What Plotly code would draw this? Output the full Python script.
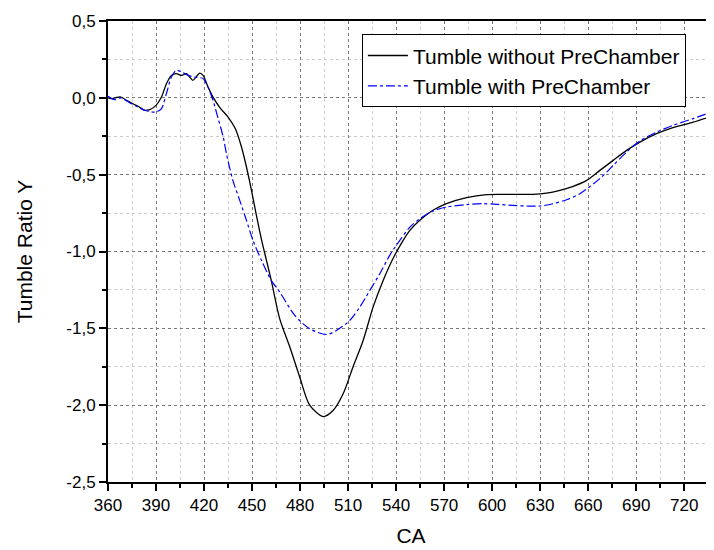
import plotly.graph_objects as go

# Tumble without PreChamber (black, solid)
ca_without = [360, 362, 365, 368, 371.5, 374.6, 378.8, 383, 386, 390, 393.4, 396.5, 399.6,
              402.7, 406, 409, 411, 413, 415, 417.3, 419.4, 422.5, 425.6, 430, 435, 439.5,
              443.4, 446.5, 449.6, 452.5, 456, 459, 462, 467.3, 473.6, 479.8, 486, 494.4,
              500.6, 506.9, 513, 519.4, 525.6, 531.9, 538, 544.4, 548.6, 554.8, 563, 571.5,
              584, 596.5, 605, 615, 625.6, 634, 642.3, 650.6, 659, 667.3, 675.6, 684, 692.3,
              702.7, 713, 725.6, 740]
tr_without = [0.0, -0.005, 0.002, 0.005, -0.016, -0.034, -0.055, -0.081, -0.077, -0.049, 0.005,
              0.092, 0.146, 0.157, 0.146, 0.157, 0.135, 0.114, 0.135, 0.161, 0.146, 0.07, 0.005,
              -0.065, -0.125, -0.20, -0.32, -0.45, -0.60, -0.754, -0.928, -1.058, -1.188, -1.438,
              -1.622, -1.818, -2.0, -2.074, -2.035, -1.926, -1.753, -1.579, -1.362, -1.188,
              -1.047, -0.928, -0.863, -0.797, -0.732, -0.689, -0.65, -0.63, -0.628, -0.628,
              -0.628, -0.62, -0.602, -0.576, -0.537, -0.472, -0.407, -0.342, -0.288, -0.233,
              -0.194, -0.158, -0.11]

# Tumble with PreChamber (blue, dash-dot)
ca_with = [360, 364, 368, 374.6, 378.8, 383, 387, 390, 393.4, 396.5, 399.6, 402.7, 406, 410,
           414, 419.4, 422.5, 425.6, 428.8, 432, 434, 438, 442.3, 446.5, 450.6, 455.9, 462,
           467.3, 476.7, 486, 496.5, 502.7, 511, 517.3, 523.6, 529.8, 536, 542.3, 548.6,
           554.8, 563, 571.5, 584, 594, 603, 613, 621.5, 630, 638, 646.5, 654.8, 667.3,
           675.6, 684, 692.3, 702.7, 713, 725.6, 740]
tr_with = [0.01, -0.012, 0.0, -0.038, -0.06, -0.081, -0.092, -0.092, -0.07, 0.027, 0.135, 0.179,
           0.168, 0.146, 0.135, 0.125, 0.07, -0.016, -0.135, -0.255, -0.363, -0.537, -0.667,
           -0.797, -0.928, -1.058, -1.188, -1.264, -1.416, -1.503, -1.54, -1.514, -1.449,
           -1.362, -1.253, -1.145, -1.025, -0.928, -0.841, -0.787, -0.737, -0.711, -0.695,
           -0.689, -0.693, -0.70, -0.704, -0.704, -0.689, -0.663, -0.624, -0.526, -0.44,
           -0.353, -0.281, -0.223, -0.179, -0.135, -0.08]

x_ticks = [360, 390, 420, 450, 480, 510, 540, 570, 600, 630, 660, 690, 720]
y_ticks = [0.5, 0.0, -0.5, -1.0, -1.5, -2.0, -2.5]
y_tick_labels = ["0,5", "0,0", "-0,5", "-1,0", "-1,5", "-2,0", "-2,5"]

FONT = "Liberation Sans, Arial, sans-serif"

fig = go.Figure()
fig.add_trace(go.Scatter(x=ca_without, y=tr_without, mode="lines",
                         name="Tumble without PreChamber",
                         line=dict(color="black", width=1.3, shape="spline", smoothing=0.8)))
fig.add_trace(go.Scatter(x=ca_with, y=tr_with, mode="lines",
                         name="Tumble with PreChamber",
                         line=dict(color="#0000ff", width=1.2, dash="dashdot",
                                   shape="spline", smoothing=0.8)))

# page body adds an 8px margin, so the figure is sized to fit the 714x550 window
fig.update_layout(
    width=706, height=542,
    margin=dict(l=100, r=0, t=13, b=68, autoexpand=False),
    paper_bgcolor="white", plot_bgcolor="white",
    font=dict(family=FONT, color="black", size=17),
    showlegend=True,
    legend=dict(x=0.419, y=0.971, xanchor="left", yanchor="top",
                bgcolor="white", bordercolor="black", borderwidth=1,
                font=dict(size=21, family=FONT, color="black"),
                tracegroupgap=0, itemwidth=40),
)

fig.update_xaxes(
    range=[360, 738.6], tickvals=x_ticks, showline=True, linecolor="black", linewidth=2,
    mirror=True, ticks="outside", ticklen=7, tickwidth=1.5, tickcolor="black",
    tickfont=dict(size=17), zeroline=False, automargin=False,
    showgrid=True, gridcolor="#777777", griddash="dot", gridwidth=1,
    minor=dict(dtick=15, tick0=360, ticks="outside", ticklen=4, tickwidth=1.5, tickcolor="black",
               showgrid=True, gridcolor="#cccccc", griddash="dot", gridwidth=1),
    title=dict(text="CA", font=dict(size=21), standoff=14),
)
fig.update_yaxes(
    range=[-2.5, 0.5], tickvals=y_ticks, ticktext=y_tick_labels, showline=True,
    linecolor="black", linewidth=2, ticks="outside", ticklen=7, tickwidth=1.5,
    tickcolor="black", tickfont=dict(size=17), zeroline=False, automargin=False,
    showgrid=True, gridcolor="#777777", griddash="dot", gridwidth=1,
    minor=dict(dtick=0.25, tick0=0, ticks="outside", ticklen=4, tickwidth=1.5, tickcolor="black",
               showgrid=True, gridcolor="#cccccc", griddash="dot", gridwidth=1),
    title=dict(text="Tumble Ratio Y", font=dict(size=21), standoff=28),
)

fig.write_html("out.html")
